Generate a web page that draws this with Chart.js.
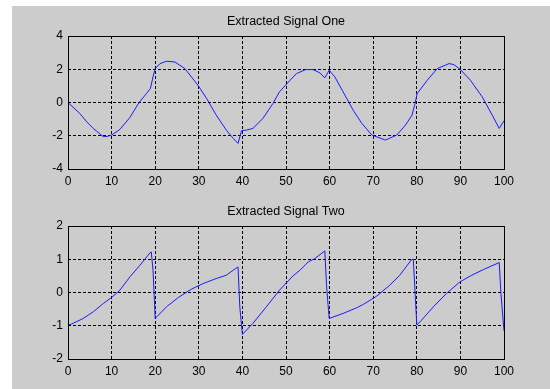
<!DOCTYPE html>
<html>
<head>
<meta charset="utf-8">
<script src="https://cdn.jsdelivr.net/npm/chart.js@4"></script>
<style>
    html, body { margin: 0; padding: 0; background: #ffffff; }
    body { width: 550px; height: 389px; position: relative; overflow: hidden; }
    #figure { position: absolute; left: 12px; top: 6px; width: 538px; height: 383px; background: #cccccc; }
    .panel { position: absolute; left: 0; width: 538px; height: 185px; }
    #panelOne { top: 0; }
    #panelTwo { top: 190px; }
</style>
</head>
<body>
<div id="figure">
    <div class="panel" id="panelOne"><canvas id="signalOneChart"></canvas></div>
    <div class="panel" id="panelTwo"><canvas id="signalTwoChart"></canvas></div>
</div>
<script>
// Datos
const oneX = [0, 2.7, 4.3, 5.8, 8.1, 9, 10, 11.9, 14.2, 16.3, 18, 18.9, 19.5, 20, 21.1,
    22.6, 24.5, 26.8, 29.8, 31.8, 34, 36.3, 37.9, 39, 39.8, 40.9, 42.4, 44.7, 47, 48.5,
    50.8, 52.4, 54.5, 56.2, 57.8, 58.9, 59.9, 61.2, 63.1, 65.4, 67.4, 69.7, 72.8, 75.4, 77.4,
    78.9, 79.5, 80.1, 82.4, 84.7, 87.4, 88.5, 90, 92.3, 95, 97.3, 98.9, 100];
const oneY = [0, -0.66, -1.16, -1.56, -2.06, -2.04, -1.96, -1.62, -0.9, 0, 0.54, 0.84, 1.54, 2.04, 2.34,
    2.48, 2.44, 2.04, 1.04, 0.24, -0.76, -1.66, -2.16, -2.46, -1.7, -1.66, -1.56, -0.96, -0.06, 0.64,
    1.3, 1.74, 1.98, 1.98, 1.78, 1.48, 1.94, 1.54, 0.64, -0.46, -1.26, -1.96, -2.26, -1.96, -1.36,
    -0.76, -0.16, 0.54, 1.34, 2.04, 2.34, 2.28, 1.98, 1.34, 0.34, -0.76, -1.56, -1.1];

const twoX = [0, 0.8, 3.5, 5.8, 8.1, 10, 11.9, 14.2, 16.5, 18.8, 19.1, 19.5, 20, 22.6, 25.3,
    28.3, 31, 34, 36.3, 37.9, 39, 39.4, 40, 42.4, 45.5, 48.5, 51.6, 53.2, 55.1, 56.6,
    58.9, 59.3, 59.9, 63.1, 66.2, 67.7, 70.8, 73.8, 76.1, 78.8, 79.2, 80, 81.1, 83.8, 86.8,
    89.9, 92.6, 95.3, 98.9, 99.3, 100];
const twoY = [-0.97, -0.95, -0.78, -0.58, -0.33, -0.15, 0.07, 0.47, 0.82, 1.19, 1.22, 0.67, -0.78, -0.43, -0.15,
    0.1, 0.27, 0.42, 0.52, 0.67, 0.77, -0.43, -1.26, -0.93, -0.43, 0.07, 0.5, 0.67, 0.92, 1.02,
    1.25, 0.2, -0.78, -0.63, -0.46, -0.36, -0.11, 0.22, 0.52, 0.99, 1.0, -0.98, -0.83, -0.43, -0.03,
    0.32, 0.52, 0.69, 0.9, -0.03, -1.15];

const xTicks = [0, 10, 20, 30, 40, 50, 60, 70, 80, 90, 100];
const oneYTicks = [-4, -2, 0, 2, 4];
const twoYTicks = [-2, -1, 0, 1, 2];

// Caja negra alrededor del area del grafico (estilo MATLAB)
const boxPlugin = {
    id: 'boxPlugin',
    afterDraw(chart) {
        const { ctx, chartArea: a } = chart;
        ctx.save();
        ctx.strokeStyle = '#000000';
        ctx.lineWidth = 1;
        ctx.strokeRect(Math.round(a.left) + 0.5, Math.round(a.top) + 0.5,
            Math.round(a.right - a.left), Math.round(a.bottom - a.top));
        ctx.restore();
    }
};

function renderSignal(canvasId, title, xs, ys, yTicks) {
    const ctx = document.getElementById(canvasId).getContext('2d');
    const font = { family: 'Arial, "Liberation Sans", sans-serif', size: 12 };
    new Chart(ctx, {
        type: 'line',
        data: {
            datasets: [{
                data: xs.map((x, i) => ({ x, y: ys[i] })),
                borderColor: '#1a1aff',
                borderWidth: 1,
                pointRadius: 0,
                tension: 0,
                fill: false
            }]
        },
        options: {
            responsive: true,
            maintainAspectRatio: false,
            animation: false,
            layout: { padding: { top: 0, left: 0, right: 46, bottom: 0 } },
            plugins: {
                legend: { display: false },
                tooltip: { enabled: false },
                title: {
                    display: true,
                    text: title,
                    fullSize: false,
                    color: '#000000',
                    font: { family: font.family, size: 12.5, weight: 'normal', lineHeight: 1.2 },
                    padding: { top: 8.3, bottom: 6.7 }
                }
            },
            scales: {
                x: {
                    type: 'linear',
                    min: xTicks[0],
                    max: xTicks[xTicks.length - 1],
                    afterBuildTicks: scale => { scale.ticks = xTicks.map(v => ({ value: v })); },
                    afterFit: scale => { scale.height = 22; },
                    grid: { color: '#000000', lineWidth: 1, drawTicks: false },
                    border: { display: false, dash: [3, 2] },
                    ticks: { color: '#000000', font, padding: 5, maxRotation: 0 }
                },
                y: {
                    type: 'linear',
                    min: yTicks[0],
                    max: yTicks[yTicks.length - 1],
                    afterBuildTicks: scale => { scale.ticks = yTicks.map(v => ({ value: v })); },
                    afterFit: scale => { scale.width = 56; },
                    grid: { color: '#000000', lineWidth: 1, drawTicks: false },
                    border: { display: false, dash: [3, 2] },
                    ticks: { color: '#000000', font, padding: 5 }
                }
            }
        },
        plugins: [boxPlugin]
    });
}

renderSignal('signalOneChart', 'Extracted Signal One', oneX, oneY, oneYTicks);
renderSignal('signalTwoChart', 'Extracted Signal Two', twoX, twoY, twoYTicks);
</script>
</body>
</html>
